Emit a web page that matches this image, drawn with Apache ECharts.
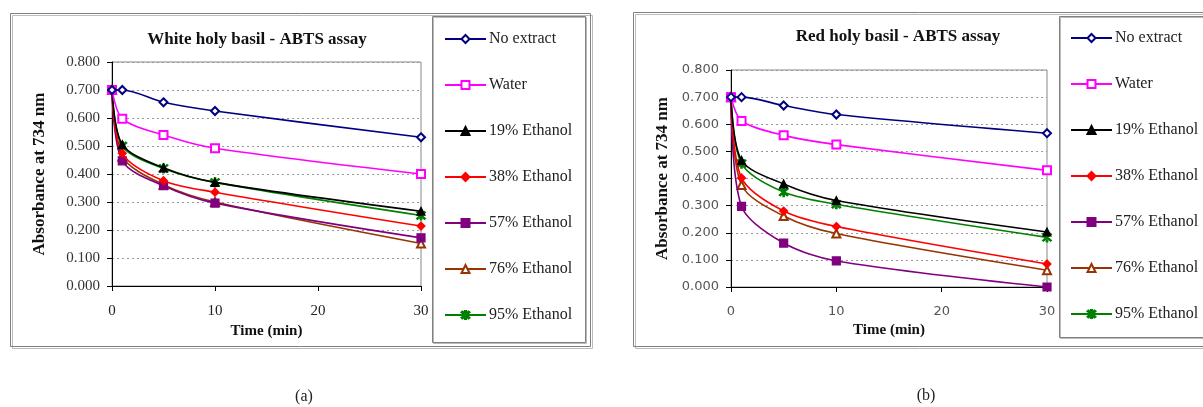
<!DOCTYPE html>
<html>
<head>
<meta charset="UTF-8">
<title>ABTS assay</title>
<script src="https://cdn.jsdelivr.net/npm/echarts@6/dist/echarts.min.js"></script>
</head>
<body style="margin:0;background:#fff;">
<div id="chart" style="width:1203px;height:407px;"></div>
<script>
// time points (min)
var times = [0, 1, 5, 10, 30];
var names = ['No extract', 'Water', '19% Ethanol', '38% Ethanol', '57% Ethanol', '76% Ethanol', '95% Ethanol'];
var titles = ['White holy basil - ABTS assay', 'Red holy basil - ABTS assay'];
var panelLabels = ['(a)', '(b)'];

// (a) white holy basil
var white_noExtract = [0.700, 0.700, 0.656, 0.625, 0.531];
var white_water     = [0.700, 0.597, 0.539, 0.492, 0.400];
var white_eth19     = [0.700, 0.505, 0.422, 0.370, 0.267];
var white_eth38     = [0.700, 0.474, 0.376, 0.335, 0.214];
var white_eth57     = [0.700, 0.447, 0.358, 0.296, 0.172];
var white_eth76     = [0.700, 0.462, 0.362, 0.300, 0.152];
var white_eth95     = [0.700, 0.500, 0.420, 0.370, 0.252];

// (b) red holy basil
var red_noExtract = [0.700, 0.700, 0.669, 0.636, 0.567];
var red_water     = [0.700, 0.612, 0.559, 0.525, 0.430];
var red_eth19     = [0.700, 0.467, 0.380, 0.319, 0.203];
var red_eth38     = [0.700, 0.402, 0.280, 0.223, 0.085];
var red_eth57     = [0.700, 0.297, 0.162, 0.096, 0.000];
var red_eth76     = [0.700, 0.376, 0.262, 0.197, 0.062];
var red_eth95     = [0.700, 0.455, 0.350, 0.305, 0.183];

var whiteData = [white_noExtract, white_water, white_eth19, white_eth38, white_eth57, white_eth76, white_eth95];
var redData = [red_noExtract, red_water, red_eth19, red_eth38, red_eth57, red_eth76, red_eth95];

// asterisk marker (vertical bar + X)
var star = 'path://M4.3 0H5.7V10H4.3Z M0.6 1.6L1.6 0.6L9.4 8.4L8.4 9.4Z M8.4 0.6L9.4 1.6L1.6 9.4L0.6 8.4Z';
var colors = ['#000080', '#FF00FF', '#000000', '#FF0000', '#800080', '#993300', '#008000'];
var symbols = ['emptyDiamond', 'emptyRect', 'triangle', 'diamond', 'rect', 'emptyTriangle', star];
var sizes = [8, 8, 8, 8, 8, 8, 9];

var serif = '"Liberation Serif", "Times New Roman", serif';
var sans = '"DejaVu Sans", sans-serif';

function makeSeries(dataList, idx) {
	return dataList.map(function(vals, i) {
		return {
			name: names[i],
			type: 'line',
			xAxisIndex: idx,
			yAxisIndex: idx,
			smooth: 0.3,
			symbol: symbols[i],
			symbolSize: sizes[i],
			showAllSymbol: true,
			lineStyle: {color: colors[i], width: 1.6},
			itemStyle: {color: colors[i], borderColor: colors[i], borderWidth: 1.2},
			emphasis: {disabled: true},
			z: 10 - i,
			data: times.map(function(t, j) { return [t, vals[j]]; })
		};
	});
}

function makeX(gridIdx, labelFont, labelSize, labelColor, nameGap) {
	return {
		type: 'value', gridIndex: gridIdx, min: 0, max: 30, interval: 10,
		name: 'Time (min)', nameLocation: 'middle', nameGap: nameGap,
		nameTextStyle: {fontFamily: serif, fontWeight: 'bold', fontSize: 15, color: '#111'},
		axisLine: {show: true, lineStyle: {color: '#000', width: 1}},
		axisTick: {show: true, length: 5, lineStyle: {color: '#000'}},
		axisLabel: {margin: 18, fontFamily: labelFont, fontSize: labelSize, color: labelColor,
			showMinLabel: true, showMaxLabel: true},
		splitLine: {show: false}
	};
}

function makeY(gridIdx, labelFont, labelSize, labelColor, nameGap) {
	return {
		type: 'value', gridIndex: gridIdx, min: 0, max: 0.8, interval: 0.1,
		name: 'Absorbance at 734 nm', nameLocation: 'middle', nameGap: nameGap,
		nameTextStyle: {fontFamily: serif, fontWeight: 'bold', fontSize: 17, color: '#111'},
		axisLine: {show: true, lineStyle: {color: '#000', width: 1}},
		axisTick: {show: true, length: 5, lineStyle: {color: '#000'}},
		axisLabel: {margin: 12, fontFamily: labelFont, fontSize: labelSize, color: labelColor,
			formatter: function(v) { return v.toFixed(3); }},
		splitLine: {show: true, lineStyle: {color: '#999', type: [2, 3], width: 1}}
	};
}

function makeLegend(left, top) {
	return {
		orient: 'vertical', left: left, top: top, padding: 0,
		itemWidth: 41, itemHeight: 10, itemGap: 30,
		selectedMode: false,
		textStyle: {fontFamily: serif, fontSize: 16, color: '#222', lineHeight: 16, padding: [0, 0, 0, -2]},
		data: names
	};
}

var option = {
	animation: false,
	backgroundColor: '#fff',
	title: [
		{text: titles[0], left: 252, top: 26, textAlign: 'center',
			textStyle: {fontFamily: serif, fontWeight: 'bold', fontSize: 17, color: '#111'}},
		{text: titles[1], left: 893, top: 23, textAlign: 'center',
			textStyle: {fontFamily: serif, fontWeight: 'bold', fontSize: 17, color: '#111'}}
	],
	grid: [
		{left: 112, top: 62, width: 309, height: 224, show: true, borderColor: '#888', borderWidth: 1, backgroundColor: 'transparent'},
		{left: 731, top: 70, width: 316, height: 217, show: true, borderColor: '#888', borderWidth: 1, backgroundColor: 'transparent'}
	],
	xAxis: [
		makeX(0, serif, 15, '#222', 38),
		makeX(1, sans, 13, '#555', 36)
	],
	yAxis: [
		makeY(0, serif, 15, '#333', 64),
		makeY(1, sans, 13, '#555', 60)
	],
	legend: [makeLegend(444, 31), makeLegend(1070, 30)],
	graphic: [
		{type: 'rect', shape: {x: 10.5, y: 13.5, width: 580, height: 333}, z: -1,
			style: {fill: 'none', stroke: '#808080', lineWidth: 1, shadowColor: '#bbb', shadowOffsetX: 2, shadowOffsetY: 2}},
		{type: 'rect', shape: {x: 633.5, y: 12.5, width: 620, height: 334}, z: -1,
			style: {fill: 'none', stroke: '#808080', lineWidth: 1, shadowColor: '#bbb', shadowOffsetX: 2, shadowOffsetY: 2}},
		{type: 'rect', shape: {x: 432.5, y: 16.5, width: 153, height: 326}, z: -1,
			style: {fill: 'none', stroke: '#808080', lineWidth: 1, shadowColor: '#bbb', shadowOffsetX: 1, shadowOffsetY: 1}},
		{type: 'rect', shape: {x: 1059.5, y: 16.5, width: 200, height: 321}, z: -1,
			style: {fill: 'none', stroke: '#808080', lineWidth: 1, shadowColor: '#bbb', shadowOffsetX: 1, shadowOffsetY: 1}},
		{type: 'text', x: 304, y: 397, style: {text: panelLabels[0], fontFamily: serif, fontSize: 16, fill: '#222', align: 'center', verticalAlign: 'middle'}},
		{type: 'text', x: 926, y: 396, style: {text: panelLabels[1], fontFamily: serif, fontSize: 16, fill: '#222', align: 'center', verticalAlign: 'middle'}}
	],
	series: makeSeries(whiteData, 0).concat(makeSeries(redData, 1))
};

var myChart = echarts.init(document.getElementById('chart'));
myChart.setOption(option, true);
</script>
</body>
</html>
